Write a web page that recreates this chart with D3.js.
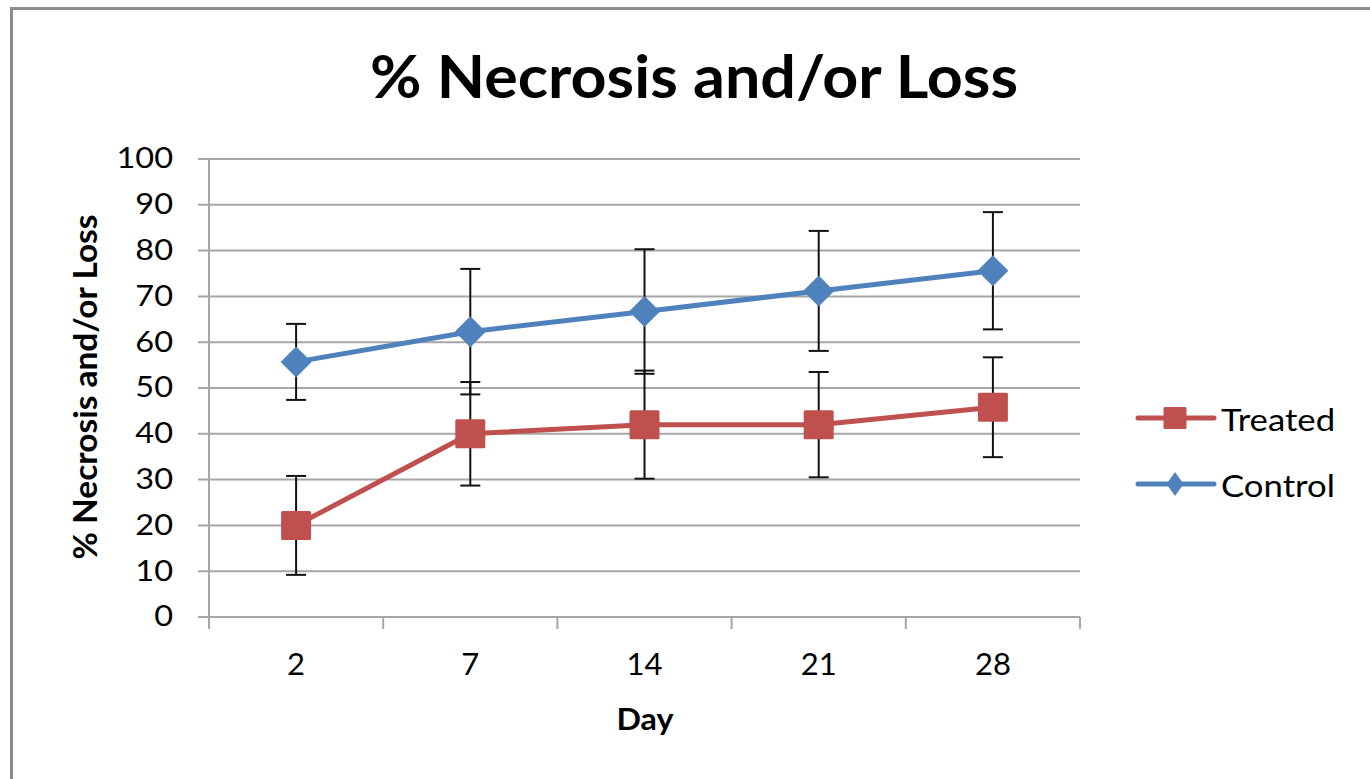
<!DOCTYPE html>
<html>
<head>
<meta charset="utf-8">
<script src="https://cdn.jsdelivr.net/npm/d3@7"></script>
<style>
    body { margin: 0; background: #fff; }
    svg { display: block; }
    text { font-family: Lato, "Open Sans", sans-serif; fill: #000; }
</style>
</head>
<body>
<div id="chart"></div>
<script>
const days = ["2", "7", "14", "21", "28"]
const treated = [20, 40, 42, 42, 45.8]
const treated_err = [10.8, 11.3, 11.8, 11.5, 10.9]
const control = [55.7, 62.3, 66.7, 71.2, 75.6]
const control_err = [8.3, 13.7, 13.6, 13.1, 12.8]
const y_ticks = [0, 10, 20, 30, 40, 50, 60, 70, 80, 90, 100]

const width = 1370
const height = 779
const plot = { left: 209, right: 1080, top: 159, bottom: 617 }

const colors = { treated: "#C0504D", control: "#4F81BD", grid: "#A6A6A6" }

const svg = d3.select("#chart")
    .append("svg")
    .attr("width", width)
    .attr("height", height)

// the original text is a bit wider than Lato, so stretch it
function stretch(sel, factor) {
    sel.each(function() {
        const len = this.getComputedTextLength()
        d3.select(this)
            .attr("textLength", len * factor)
            .attr("lengthAdjust", "spacingAndGlyphs")
    })
}

/* OUTER FRAME */
svg.append("rect")
    .attr("x", 11.5)
    .attr("y", 8.5)
    .attr("width", width + 20)
    .attr("height", height + 20)
    .attr("fill", "none")
    .attr("stroke", "#8c8c8c")
    .attr("stroke-width", 3)

/* SCALES */
const x = d3.scaleBand()
    .domain(days)
    .range([plot.left, plot.right])

const y = d3.scaleLinear()
    .domain([0, 100])
    .range([plot.bottom, plot.top])

// grid lines
svg.append("g")
    .selectAll("line")
    .data(y_ticks)
    .enter()
    .append("line")
    .attr("x1", plot.left - 11)
    .attr("x2", plot.right)
    .attr("y1", d => y(d))
    .attr("y2", d => y(d))
    .attr("stroke", colors.grid)
    .attr("stroke-width", 2)

/* Y AXIS */
const y_axis = svg.append("g")
    .attr("transform", `translate(${plot.left}, 0)`)
    .call(
        d3.axisLeft(y)
        .tickValues(y_ticks)
        .tickSize(0)
        .tickPadding(36)
    )
y_axis.select(".domain").remove()
y_axis.selectAll("text")
    .style("font-size", "28px")
    .style("font-family", "Lato, sans-serif")
    .attr("fill", "#222")
    .call(stretch, 1.16)

svg.append("line")
    .attr("x1", plot.left)
    .attr("x2", plot.left)
    .attr("y1", plot.top)
    .attr("y2", plot.bottom + 12)
    .attr("stroke", colors.grid)
    .attr("stroke-width", 2)

/* X AXIS */
const x_axis = svg.append("g")
    .attr("transform", `translate(0, ${plot.bottom})`)
    .call(
        d3.axisBottom(x)
        .tickSize(0)
        .tickPadding(36)
    )
x_axis.select(".domain").remove()
x_axis.selectAll("text")
    .style("font-size", "31px")
    .style("font-family", "Lato, sans-serif")
    .attr("fill", "#222")

// category boundary ticks
const boundaries = days.map(d => x(d)).concat([plot.right])
svg.append("g")
    .selectAll("line")
    .data(boundaries)
    .enter()
    .append("line")
    .attr("x1", d => d)
    .attr("x2", d => d)
    .attr("y1", plot.bottom)
    .attr("y2", plot.bottom + 12)
    .attr("stroke", colors.grid)
    .attr("stroke-width", 2)

/* TITLES */
svg.append("text")
    .attr("x", 694)
    .attr("y", 98)
    .attr("text-anchor", "middle")
    .attr("textLength", 648)
    .attr("lengthAdjust", "spacingAndGlyphs")
    .style("font-size", "60px")
    .style("font-weight", "bold")
    .text("% Necrosis and/or Loss")

svg.append("text")
    .attr("transform", "translate(97, 387) rotate(-90)")
    .attr("text-anchor", "middle")
    .attr("textLength", 345)
    .attr("lengthAdjust", "spacingAndGlyphs")
    .style("font-size", "32px")
    .style("font-weight", "bold")
    .text("% Necrosis and/or Loss")

svg.append("text")
    .attr("x", 645)
    .attr("y", 730)
    .attr("text-anchor", "middle")
    .attr("textLength", 57)
    .attr("lengthAdjust", "spacingAndGlyphs")
    .style("font-size", "30px")
    .style("font-weight", "bold")
    .text("Day")

/* SERIES */
const series = [
    { name: "Treated", values: treated, err: treated_err, color: colors.treated, marker: "square" },
    { name: "Control", values: control, err: control_err, color: colors.control, marker: "diamond" },
]
const cx = i => x(days[i]) + x.bandwidth() / 2

const line = d3.line()
    .x((d, i) => cx(i))
    .y(d => y(d))

// lines first, then error bars, then markers
series.forEach(s => {
    svg.append("path")
        .datum(s.values)
        .attr("d", line)
        .attr("fill", "none")
        .attr("stroke", s.color)
        .attr("stroke-width", 5)
        .attr("stroke-linejoin", "round")
})

series.forEach(s => {
    const g = svg.append("g")
        .attr("stroke", "#111")
        .attr("stroke-width", 2)
    s.values.forEach((v, i) => {
        const lo = y(v - s.err[i])
        const hi = y(v + s.err[i])
        g.append("line").attr("x1", cx(i)).attr("x2", cx(i)).attr("y1", lo).attr("y2", hi)
        g.append("line").attr("x1", cx(i) - 10).attr("x2", cx(i) + 10).attr("y1", lo).attr("y2", lo)
        g.append("line").attr("x1", cx(i) - 10).attr("x2", cx(i) + 10).attr("y1", hi).attr("y2", hi)
    })
})

function marker(g, type, px, py, w, h, color) {
    if (type === "square") {
        g.append("rect")
            .attr("x", px - w / 2)
            .attr("y", py - h / 2)
            .attr("width", w)
            .attr("height", h)
            .attr("rx", 1.5)
            .attr("fill", color)
    } else {
        g.append("path")
            .attr("d", `M${px},${py - h / 2}L${px + w / 2},${py}L${px},${py + h / 2}L${px - w / 2},${py}Z`)
            .attr("fill", color)
    }
}

series.forEach(s => {
    const g = svg.append("g")
    s.values.forEach((v, i) => {
        if (s.marker === "square") marker(g, "square", cx(i), y(v), 30, 29, s.color)
        else marker(g, "diamond", cx(i), y(v), 31, 31, s.color)
    })
})

/* LEGEND */
const legend = svg.append("g")
series.forEach((s, i) => {
    const ly = 418 + i * 66
    legend.append("line")
        .attr("x1", 1138)
        .attr("x2", 1214)
        .attr("y1", ly)
        .attr("y2", ly)
        .attr("stroke", s.color)
        .attr("stroke-width", 5)
        .attr("stroke-linecap", "round")
    if (s.marker === "square") marker(legend, "square", 1175, ly, 23, 22, s.color)
    else marker(legend, "diamond", 1175, ly, 17, 24, s.color)
    legend.append("text")
        .attr("x", 1221)
        .attr("y", ly + 13)
        .style("font-size", "31px")
        .attr("fill", "#222")
        .text(s.name)
        .call(stretch, 1.12)
})
</script>
</body>
</html>
